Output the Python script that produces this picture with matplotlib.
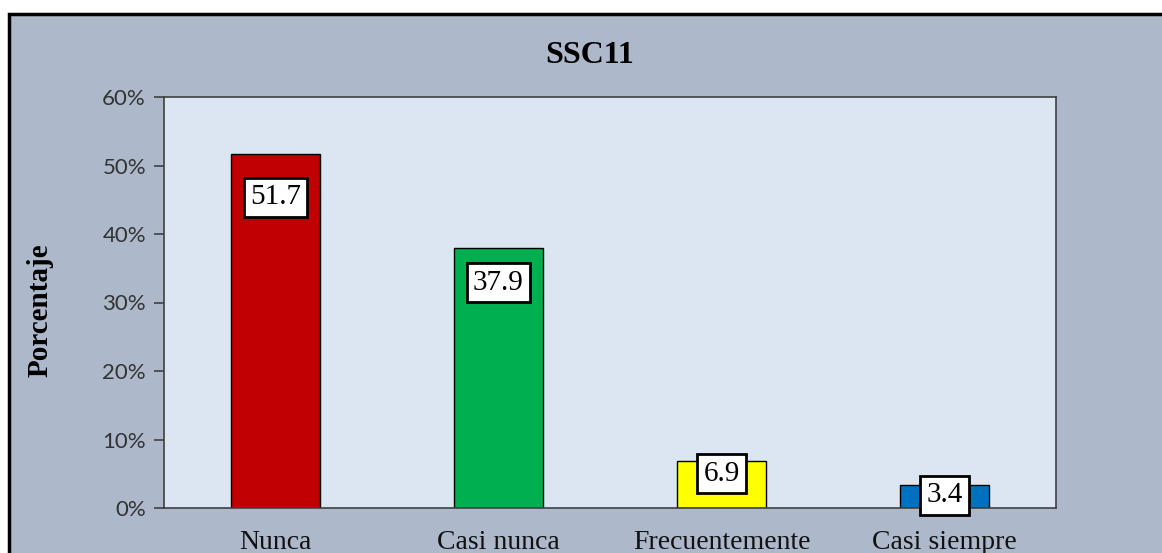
import matplotlib
matplotlib.use("Agg")
import matplotlib.pyplot as plt
from matplotlib.patches import Rectangle
from matplotlib.ticker import PercentFormatter

categories = ["Nunca", "Casi nunca", "Frecuentemente", "Casi siempre"]
values = [51.7, 37.9, 6.9, 3.4]
colors = ["#c00000", "#00b050", "#ffff00", "#0070c0"]
title = "SSC11"
ylabel = "Porcentaje"
yticks = [0, 10, 20, 30, 40, 50, 60]

W, H = 1162, 553
fig = plt.figure(figsize=(W / 100, H / 100), dpi=100)
fig.patch.set_facecolor("white")

# outer chart area with black border (extends beyond right/bottom edges)
fig.patches.append(Rectangle((9 / W, -0.05), 1.1, 1 - 14 / H + 0.05,
                             transform=fig.transFigure, facecolor="#adb9ca",
                             edgecolor="black", linewidth=2.5, zorder=-10))

ax = fig.add_axes([164 / W, 1 - 508 / H, (1056 - 164) / W, (508 - 97) / H])
ax.set_zorder(5)
ax.set_facecolor("#dce6f2")
x = list(range(len(categories)))
ax.bar(x, values, width=0.4, color=colors, edgecolor="black", linewidth=1.0, zorder=2)
ax.set_xlim(-0.5, len(categories) - 0.5)
ax.set_ylim(0, 60)
ax.set_yticks(yticks)
ax.yaxis.set_major_formatter(PercentFormatter(decimals=0))
ax.set_xticks(x)
ax.set_xticklabels(categories, fontfamily="Liberation Serif", fontsize=20, color="#111111")
ax.tick_params(axis="x", length=0, pad=16)
ax.tick_params(axis="y", length=7, width=1.2, color="#404040", pad=6,
               labelsize=16, labelcolor="#333333")
for lab in ax.get_yticklabels():
    lab.set_fontfamily("Lato")
for s in ax.spines.values():
    s.set_color("#404040")
    s.set_linewidth(1.2)

for xi, v in zip(x, values):
    off = 1.2 + 0.1 * v
    ax.text(xi, v - off, f"{v:.1f}", ha="center", va="center",
            fontfamily="Liberation Serif", fontsize=21, color="black", zorder=3,
            bbox=dict(boxstyle="square,pad=0.22", facecolor="white",
                      edgecolor="black", linewidth=2))

fig.text(590 / W, 1 - 55 / H, title, ha="center", va="center",
         fontfamily="Liberation Serif", fontweight="bold", fontsize=23)
fig.text(40 / W, 1 - 310 / H, ylabel, ha="center", va="center", rotation=90,
         fontfamily="Liberation Serif", fontweight="bold", fontsize=21)

fig.savefig("out.png", dpi=100)
